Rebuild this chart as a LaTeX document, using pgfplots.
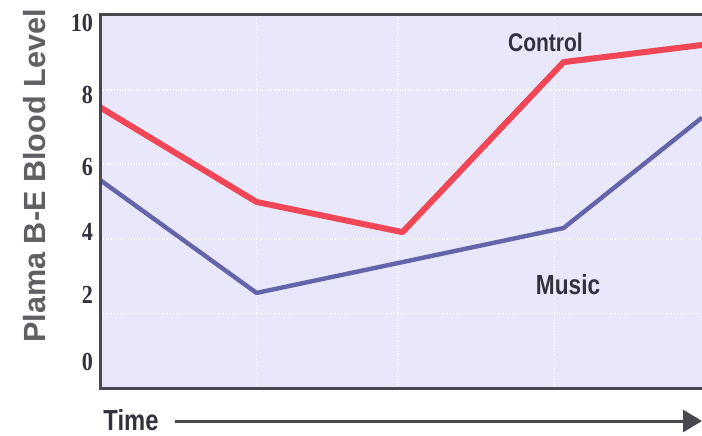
\documentclass[border=0pt]{standalone}
\usepackage{fontspec}
\usepackage{pgfplots}
\pgfplotsset{compat=1.18}
\usetikzlibrary{arrows.meta}
\setmainfont{Liberation Sans}
\newfontfamily\tickfont[FakeStretch=0.85]{Liberation Serif}
\newfontfamily\narrow[FakeStretch=0.82]{Liberation Sans}

\definecolor{bgcol}{RGB}{232,232,250}
\definecolor{redc}{RGB}{240,70,85}
\definecolor{bluec}{RGB}{100,100,170}
\definecolor{axcol}{RGB}{72,72,80}
\definecolor{txtcol}{RGB}{50,50,62}
\definecolor{ylabcol}{RGB}{95,95,100}

\begin{document}
\begin{tikzpicture}
\begin{axis}[
  scale only axis, width=301pt, height=187pt,
  xmin=0, xmax=4, ymin=0, ymax=10.03,
  axis background/.style={fill=bgcol},
  axis line style={draw=none},
  major tick length=0,
  xtick={1.04,1.98,3.02}, xticklabels={}, xmajorgrids,
  ytick={0.70,2.49,4.18,5.92,7.86,9.79},
  yticklabels={0,2,4,6,8,10},
  /pgf/number format/assume math mode=true,
  yticklabel style={font=\tickfont\bfseries\fontsize{13}{13}\selectfont, text=txtcol},
  extra y ticks={2,4,6,8}, extra y tick labels={},
  extra y tick style={grid=major},
  major grid style={white, densely dotted, line width=0.8pt},
]
% Control
\addplot[redc, line width=3pt, line join=round] coordinates {
  (0,7.53) (1.04,4.99) (2.01,4.18) (3.08,8.74) (4,9.20)};
% Music
\addplot[bluec, line width=2.2pt, line join=round] coordinates {
  (0,5.58) (1.04,2.55) (3.08,4.29) (4,7.25)};

\node[font=\narrow\bfseries\fontsize{12.8}{13}\selectfont, text=txtcol] at (axis cs:2.96,9.28) {Control};
\node[font=\narrow\bfseries\fontsize{13.8}{14}\selectfont, text=txtcol] at (axis cs:3.11,2.76) {Music};

\coordinate (bl) at (rel axis cs:0,0);
\coordinate (tl) at (rel axis cs:0,1);
\coordinate (br) at (rel axis cs:1,0);
\coordinate (tr) at (rel axis cs:1,1);
\coordinate (ml) at (rel axis cs:0,0.5);
\end{axis}
\draw[axcol, line width=1.5pt] (tr) -- (tl) -- (bl) -- (br);
\node[rotate=90, font=\bfseries\fontsize{15.3}{16}\selectfont, text=ylabcol]
  at ([shift={(-32.5pt,12.5pt)}]ml) {Plama B-E Blood Level};
\node[anchor=west, inner sep=0pt, font=\narrow\bfseries\fontsize{14.5}{15}\selectfont, text=txtcol]
  at ([shift={(1.5pt,-16.2pt)}]bl) {Time};
\draw[axcol, line width=1.5pt, -{Triangle[length=9.5pt,width=11pt]}]
  ([shift={(37.5pt,-16.5pt)}]bl) -- ([shift={(0pt,-16.5pt)}]br);
\pgfresetboundingbox
\path[use as bounding box] ([shift={(-50pt,-23.5pt)}]bl) rectangle ([shift={(0pt,7pt)}]tr);
\end{tikzpicture}
\end{document}
